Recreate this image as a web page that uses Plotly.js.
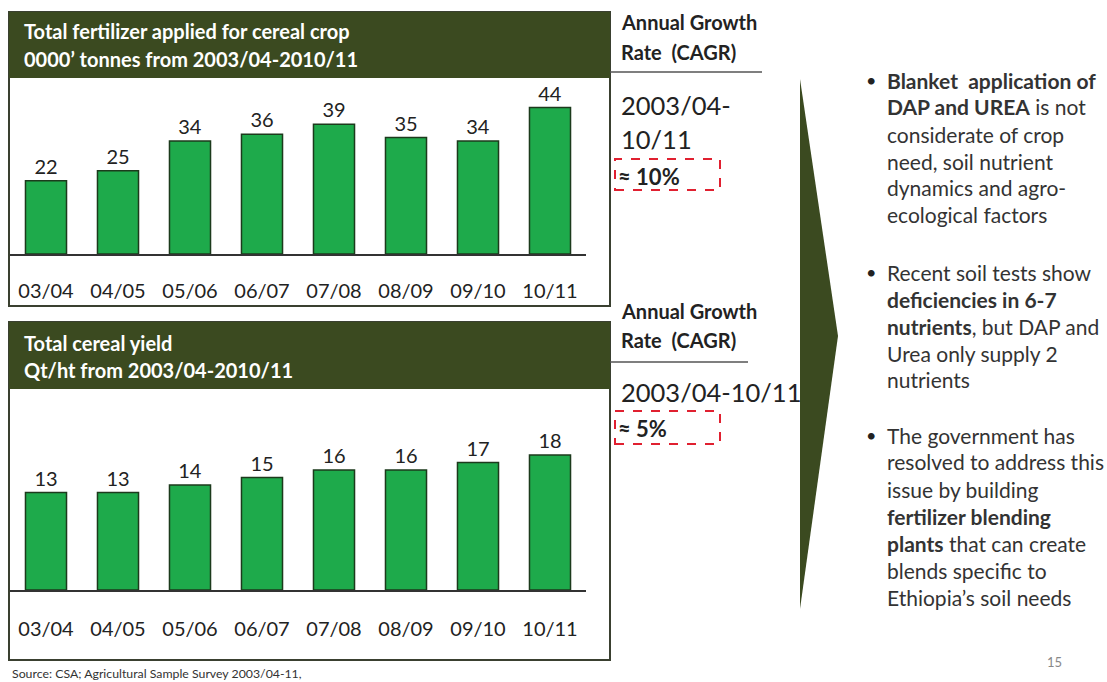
<!DOCTYPE html>
<html>
<head>
<meta charset="utf-8">
<script src="https://cdn.plot.ly/plotly-3.0.1.min.js"></script>
<style>html,body{margin:0;padding:0;background:#fff;}#chart{width:1107px;height:682px;}</style>
</head>
<body>
<div id="chart"></div>
<script>
// ---- data ----
const seasons = ["03/04","04/05","05/06","06/07","07/08","08/09","09/10","10/11"];
const fertilizer = [22, 25, 34, 36, 39, 35, 34, 44];
const cerealYield = [13, 13, 14, 15, 16, 16, 17, 18];

const topTitle = ["Total fertilizer applied for cereal crop", "0000\u2019 tonnes from 2003/04-2010/11"];
const bottomTitle = ["Total cereal yield", "Qt/ht from 2003/04-2010/11"];
const cagrTop = ["2003/04-", "10/11"];
const cagrTopValue = "\u2248 10%";
const cagrBottom = "2003/04-10/11";
const cagrBottomValue = "\u2248 5%";
const bullets = [
  ["<b>Blanket  application of</b>", "<b>DAP and UREA</b> is not", "considerate of crop", "need, soil nutrient", "dynamics and agro-", "ecological factors"],
  ["Recent soil tests show", "<b>deficiencies in 6-7</b>", "<b>nutrients</b>, but DAP and", "Urea only supply 2", "nutrients"],
  ["The government has", "resolved to address this", "issue by building", "<b>fertilizer blending</b>", "<b>plants</b> that can create", "blends specific to", "Ethiopia\u2019s soil needs"]
];
const sourceText = "Source: CSA; Agricultural Sample Survey 2003/04-11,";
const pageNum = "15";

// ---- layout helpers ----
const W = 1107, H = 682;
const px = x => x / W;
const py = y => 1 - y / H;
const FONT = "Lato, 'Open Sans', sans-serif";
const OLIVE = "#3b4a20";
const BAR = "#1eaa4b";
const TXT = "#222";

const barTrace = (x, y, xa, ya) => ({
  type: "bar", x: x, y: y, xaxis: xa, yaxis: ya,
  marker: {color: BAR, line: {color: "#1c3a1c", width: 1.5}},
  width: 0.57,
  text: y.map(String), textposition: "outside", cliponaxis: false,
  textfont: {family: FONT, size: 20, color: TXT},
  hoverinfo: "skip"
});

const data = [
  barTrace(seasons, fertilizer, "x", "y"),
  barTrace(seasons, cerealYield, "x2", "y2")
];

const xaxisBase = {
  type: "category", range: [-0.5, 7.5], showgrid: false, zeroline: false,
  showline: true, linecolor: "#333", linewidth: 1.5,
  ticks: "", tickfont: {family: FONT, size: 20, color: TXT}, fixedrange: true
};

const shapes = [];
const annotations = [];

function panel(top, headerBottom, bottom) {
  shapes.push({type: "rect", xref: "paper", yref: "paper", x0: px(9), x1: px(610), y0: py(bottom), y1: py(top),
    line: {color: "#3a4030", width: 2}, fillcolor: "rgba(0,0,0,0)", layer: "below"});
  shapes.push({type: "rect", xref: "paper", yref: "paper", x0: px(9), x1: px(610), y0: py(headerBottom), y1: py(top),
    line: {width: 0}, fillcolor: OLIVE, layer: "below"});
}
panel(12, 78, 306);
panel(322, 389, 660);

function text(x, y, t, size, opts) {
  annotations.push(Object.assign({
    xref: "paper", yref: "paper", x: px(x), y: py(y), text: t, showarrow: false,
    xanchor: "left", yanchor: "middle", align: "left",
    font: {family: FONT, size: size, color: TXT}
  }, opts || {}));
}

// headers
const hdrFont = {family: FONT, size: 20, color: "#fff"};
text(22, 31, "<b>" + topTitle[0] + "</b>", 20, {font: hdrFont});
text(22, 59, "<b>" + topTitle[1] + "</b>", 20, {font: hdrFont});
text(22, 343, "<b>" + bottomTitle[0] + "</b>", 20, {font: hdrFont});
text(22, 370, "<b>" + bottomTitle[1] + "</b>", 20, {font: hdrFont});

// CAGR side text
text(619, 22, "<b>Annual Growth</b>", 20);
text(619, 52, "<b>Rate  (CAGR)</b>", 20);
shapes.push({type: "line", xref: "paper", yref: "paper", x0: px(610), x1: px(762), y0: py(72), y1: py(72), line: {color: "#555", width: 1.5}});
text(619, 105, cagrTop[0], 25.5);
text(619, 139, cagrTop[1], 25.5);
shapes.push({type: "rect", xref: "paper", yref: "paper", x0: px(615), x1: px(720), y0: py(190), y1: py(159), line: {color: "#e02030", width: 2, dash: "dash"}});
text(616, 176, "<b>" + cagrTopValue + "</b>", 22);

text(619, 311, "<b>Annual Growth</b>", 20);
text(619, 340, "<b>Rate  (CAGR)</b>", 20);
shapes.push({type: "line", xref: "paper", yref: "paper", x0: px(610), x1: px(748), y0: py(362), y1: py(362), line: {color: "#555", width: 1.5}});
text(619, 392, cagrBottom, 25.5);
shapes.push({type: "rect", xref: "paper", yref: "paper", x0: px(615), x1: px(720), y0: py(444), y1: py(411), line: {color: "#e02030", width: 2, dash: "dash"}});
text(616, 428, "<b>" + cagrBottomValue + "</b>", 22);

// arrow
shapes.push({type: "path", xref: "paper", yref: "paper",
  path: "M " + px(800) + " " + py(79) + " L " + px(838) + " " + py(336) + " L " + px(800) + " " + py(609) + " Z",
  fillcolor: OLIVE, line: {width: 0}});

// bullets
const bulletStarts = [80, 272, 435];
const LH = 27;
bullets.forEach((lines, i) => {
  text(864, bulletStarts[i], "\u2022", 18);
  lines.forEach((ln, j) => text(885, bulletStarts[i] + j * LH, ln, 21, {font: {family: FONT, size: 21, color: "#333"}}));
});

text(10, 673, sourceText, 12.3, {font: {family: FONT, size: 12.3, color: "#333"}});
text(1045, 662, pageNum, 13, {font: {family: FONT, size: 13, color: "#888"}});

const layout = {
  width: W, height: H, margin: {l: 0, r: 0, t: 0, b: 0},
  paper_bgcolor: "#fff", plot_bgcolor: "rgba(0,0,0,0)",
  showlegend: false,
  font: {family: FONT, color: TXT},
  xaxis: Object.assign({}, xaxisBase, {domain: [px(10), px(586)], anchor: "y", ticklabelstandoff: 18}),
  yaxis: {domain: [py(254), py(80)], range: [0, 52.3], visible: false, fixedrange: true, anchor: "x"},
  xaxis2: Object.assign({}, xaxisBase, {domain: [px(10), px(586)], anchor: "y2", ticklabelstandoff: 20}),
  yaxis2: {domain: [py(590), py(392)], range: [0, 26.4], visible: false, fixedrange: true, anchor: "x2"},
  shapes: shapes, annotations: annotations
};

Plotly.newPlot("chart", data, layout, {displayModeBar: false, staticPlot: true});
</script>
</body>
</html>
